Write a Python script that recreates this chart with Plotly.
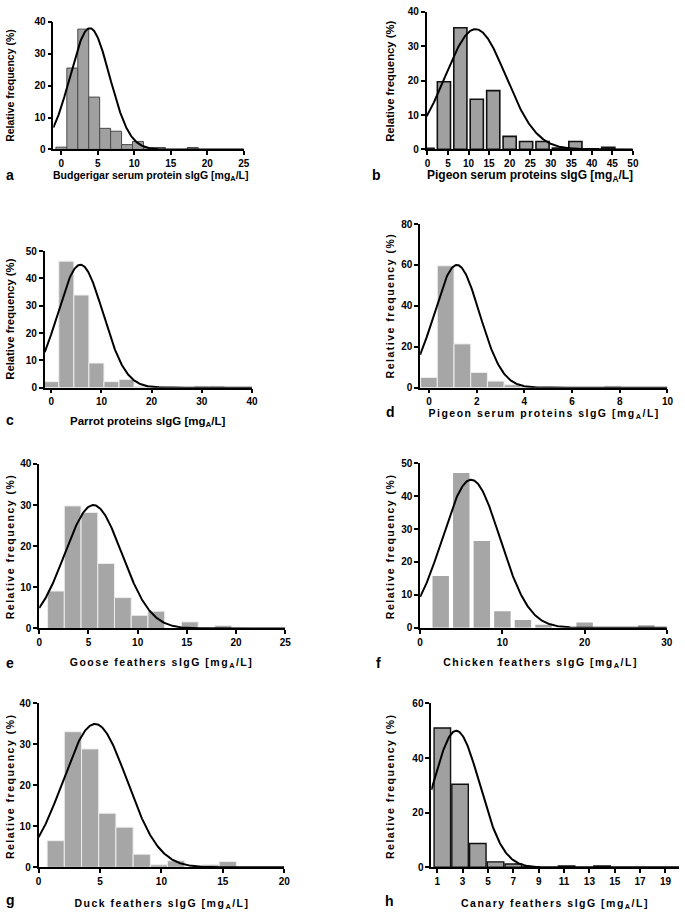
import plotly.graph_objects as go
import numpy as np

W, H = 685, 919

# ---------------- data ----------------
a_bins = [0, 1.5, 3, 4.5, 6, 7.5, 9, 10.5, 12, 13.5, 18]
a_vals = [0.7, 25.5, 37.7, 16.4, 6.6, 5.7, 1.5, 2.5, 0.6, 0.6, 0.6]
b_bins = [0, 4, 8, 12, 16, 20, 24, 28, 32, 36, 40, 44]
b_vals = [0.3, 19.7, 35.4, 14.6, 17.1, 3.8, 2.3, 2.3, 0.4, 2.3, 0.2, 0.6]
c_bins = [0, 3, 6, 9, 12, 15, 18, 21, 30, 33]
c_vals = [2.2, 46.3, 33.9, 9.0, 2.2, 3.0, 0.5, 0.5, 0.6, 0.6]
d_bins = [0, 0.7, 1.4, 2.1, 2.8, 3.5, 4.2, 7.7]
d_vals = [5.0, 59.6, 21.4, 7.4, 3.2, 1.4, 0.5, 0.8]
e_bins = [1.7, 3.4, 5.1, 6.8, 8.5, 10.2, 11.9, 15.3, 18.7]
e_vals = [9.1, 29.8, 28.2, 15.8, 7.5, 3.2, 4.2, 1.6, 0.7]
f_bins = [2.5, 5, 7.5, 10, 12.5, 15, 20, 27.5]
f_vals = [15.7, 47.0, 26.4, 5.0, 2.4, 0.9, 1.6, 0.8]
g_bins = [1.4, 2.8, 4.2, 5.6, 7.0, 8.4, 9.8, 11.2, 14.0, 15.4]
g_vals = [6.5, 33.1, 28.9, 13.2, 9.8, 3.2, 0.6, 1.6, 0.6, 1.4]
h_bins = [1.4, 2.8, 4.2, 5.6, 7.0, 8.4, 11.2, 14.0]
h_vals = [51.0, 30.4, 8.7, 2.0, 1.2, 0.2, 0.5, 0.5]

# Gaussian fit parameters (amplitude, mean, SD)
fit_amp = [38, 35, 45, 60, 30, 45, 35, 50]
fit_mean = [3.9, 11.7, 5.8, 1.17, 5.5, 6.2, 4.6, 2.5]
fit_sd = [2.7, 7.4, 4.5, 0.95, 2.9, 3.5, 2.6, 1.85]

x_titles = [
    "Budgerigar serum protein sIgG [mg<sub>A</sub>/L]",
    "Pigeon serum proteins sIgG [mg<sub>A</sub>/L]",
    "Parrot proteins sIgG [mg<sub>A</sub>/L]",
    "Pigeon serum proteins sIgG [mg<sub>A</sub>/L]",
    "Goose feathers sIgG [mg<sub>A</sub>/L]",
    "Chicken feathers sIgG [mg<sub>A</sub>/L]",
    "Duck feathers sIgG [mg<sub>A</sub>/L]",
    "Canary feathers sIgG [mg<sub>A</sub>/L]",
]
panel_letters = ["a", "b", "c", "d", "e", "f", "g", "h"]
y_title = "Relative frequency (%)"

x_ticks = [
    [0, 5, 10, 15, 20, 25],
    [0, 5, 10, 15, 20, 25, 30, 35, 40, 45, 50],
    [0, 10, 20, 30, 40],
    [0, 2, 4, 6, 8, 10],
    [0, 5, 10, 15, 20, 25],
    [0, 10, 20, 30],
    [0, 5, 10, 15, 20],
    [1, 3, 5, 7, 9, 11, 13, 15, 17, 19],
]
y_ticks = [
    [0, 10, 20, 30, 40],
    [0, 10, 20, 30, 40],
    [0, 10, 20, 30, 40, 50],
    [0, 20, 40, 60, 80],
    [0, 10, 20, 30, 40],
    [0, 10, 20, 30, 40, 50],
    [0, 10, 20, 30, 40],
    [0, 20, 40, 60],
]

# ---------------- layout / style ----------------
# pixel geometry of each panel: (x0, x1, ytop, ybottom)
boxes = [
    (51, 244, 16, 145.3),
    (429.3, 638.3, 6, 145.3),
    (42.3, 252.3, 248.3, 386.7),
    (422.7, 673.3, 221, 386.7),
    (36.7, 286, 464, 630.7),
    (422.7, 672.7, 463.3, 630),
    (36, 285, 706.7, 872.7),
    (434, 685, 706.7, 872.7),
]
x_ranges = [(-1.1, 25), (-0.2, 50), (-1.3, 40), (-0.37, 10), (0, 25), (0, 30), (0, 20), (0.53, 20.07)]
y_ranges = [(0, 40), (0, 40), (0, 50), (0, 80), (0, 40), (0, 50), (0, 40), (0, 60)]
bar_widths = [1.5, 3.2, 3.0, 0.7, 1.7, 2.0, 1.4, 1.3]
bar_fill = ["#a0a0a0", "#a0a0a0", "#a6a6a6", "#a6a6a6", "#a6a6a6", "#a6a6a6", "#a6a6a6", "#a0a0a0"]
bar_line = ["#4a4a4a", "#111111", "#ededed", "#ededed", "#ededed", "#ffffff", "#ededed", "#111111"]
bar_lw = [1, 1.6, 1, 1, 1, 0, 1, 1.4]
# title positions (px): x-title center x, y; panel letter x, y; y-title x, y
xt_pos = [(150, 172), (534, 172), (147, 421.7), (548, 413), (161, 666), (545, 666), (161, 910), (559, 910)]
letter_pos = [(7, 171), (378, 171), (7, 419), (393, 411), (7, 666), (380, 666), (8, 906), (392, 907)]
yt_pos = [(7, 80), (392, 76), (7, 317), (392, 303), (7, 547), (392, 547), (7, 790), (392, 790)]
title_size = [10.5, 12, 11.5, 10.5, 10.5, 10.5, 10.5, 10.5]
spaced = [False, False, False, True, True, True, True, True]

bins_all = [a_bins, b_bins, c_bins, d_bins, e_bins, f_bins, g_bins, h_bins]
vals_all = [a_vals, b_vals, c_vals, d_vals, e_vals, f_vals, g_vals, h_vals]

FONT = "Liberation Sans, Arial, sans-serif"

fig = go.Figure()
layout = dict(
    width=W, height=H, margin=dict(l=0, r=0, t=0, b=0),
    paper_bgcolor="white", plot_bgcolor="white", showlegend=False,
    annotations=[],
)

for i in range(8):
    n = "" if i == 0 else str(i + 1)
    xa, ya = "x" + n, "y" + n
    x0, x1, yt, yb = boxes[i]
    fig.add_trace(go.Bar(
        x=bins_all[i], y=vals_all[i], width=bar_widths[i],
        marker=dict(color=bar_fill[i], line=dict(color=bar_line[i], width=bar_lw[i])),
        xaxis=xa, yaxis=ya, hoverinfo="skip",
    ))
    xs = np.linspace(x_ranges[i][0], x_ranges[i][1], 400)
    ys = fit_amp[i] * np.exp(-((xs - fit_mean[i]) ** 2) / (2 * fit_sd[i] ** 2))
    fig.add_trace(go.Scatter(
        x=xs, y=ys, mode="lines", line=dict(color="black", width=2),
        xaxis=xa, yaxis=ya, hoverinfo="skip",
    ))
    common = dict(
        showgrid=False, zeroline=False, showline=True, linecolor="black", linewidth=1.6,
        ticks="outside", tickcolor="black", tickwidth=1.6, ticklen=4,
        tickfont=dict(family=FONT, size=10, color="black", weight="bold"),
        fixedrange=True,
    )
    layout["xaxis" + n] = dict(
        domain=[x0 / W, x1 / W], range=list(x_ranges[i]), anchor=ya,
        tickvals=x_ticks[i], ticktext=[str(t) for t in x_ticks[i]], **common,
    )
    layout["yaxis" + n] = dict(
        domain=[1 - yb / H, 1 - yt / H], range=list(y_ranges[i]), anchor=xa,
        tickvals=y_ticks[i], ticktext=[str(t) for t in y_ticks[i]], **common,
    )
    tx, ty = xt_pos[i]
    layout["annotations"].append(dict(
        text="<b>" + x_titles[i] + "</b>", x=tx / W, y=1 - ty / H, xref="paper", yref="paper",
        showarrow=False, xanchor="center", yanchor="middle",
        font=dict(family=FONT, size=title_size[i], color="black"),
    ))
    lx, ly = letter_pos[i]
    layout["annotations"].append(dict(
        text="<b>" + panel_letters[i] + "</b>", x=lx / W, y=1 - ly / H, xref="paper", yref="paper",
        showarrow=False, xanchor="center", yanchor="middle",
        font=dict(family=FONT, size=14, color="black"),
    ))
    px_, py_ = yt_pos[i]
    layout["annotations"].append(dict(
        text="<b>" + y_title + "</b>", x=px_ / W, y=1 - py_ / H, xref="paper", yref="paper",
        showarrow=False, xanchor="center", yanchor="middle", textangle=-90,
        font=dict(family=FONT, size=min(title_size[i], 11.3), color="black"),
    ))

fig.update_layout(**layout)

spaced_panels = [i for i in range(8) if spaced[i]]
post = """
document.body.style.margin = '0';
document.body.style.overflow = 'hidden';
var gd = document.getElementsByClassName('plotly-graph-div')[0];
var spaced = %s;
function applySpacing() {
  var anns = gd.querySelectorAll('g.annotation');
  anns.forEach(function (a, k) {
    var p = Math.floor(k / 3);
    var r = k %% 3;
    if (spaced.indexOf(p) >= 0 && r !== 1) {
      a.querySelectorAll('text').forEach(function (t) { t.style.letterSpacing = '1.5px'; });
    }
  });
  spaced.forEach(function (p) {
    var n = p === 0 ? '' : String(p + 1);
    var sp = gd.querySelectorAll('.subplot.x' + n + 'y' + n + ' .xtick text, .subplot.x' + n + 'y' + n + ' .ytick text');
    sp.forEach(function (t) { t.style.letterSpacing = '1px'; });
  });
}
applySpacing();
""" % str(spaced_panels)

fig.write_html("out.html", post_script=post, config={"displayModeBar": False})
